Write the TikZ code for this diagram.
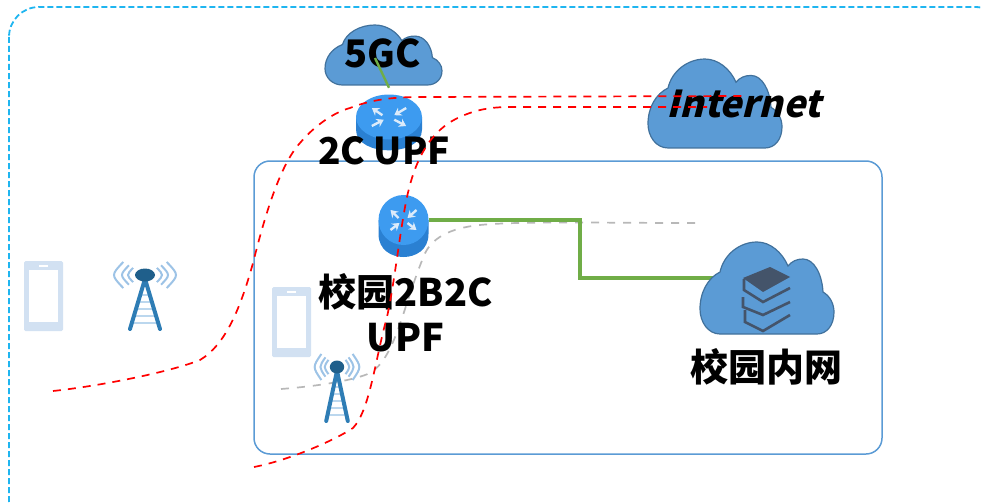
\documentclass[tikz,border=0pt]{standalone}
\usepackage{fontspec}
\setmainfont{Noto Sans CJK SC}
\newfontfamily\slantfont{Noto Sans CJK SC}[FakeSlant=0.25]
\usetikzlibrary{arrows.meta}
\definecolor{cloudblue}{HTML}{5B9BD5}
\definecolor{cloudedge}{HTML}{41719C}
\definecolor{bookdark}{HTML}{44546A}
\definecolor{routertop}{HTML}{3D9BF0}
\definecolor{routerside}{HTML}{2A80D2}
\definecolor{arrowpale}{HTML}{DCEBFA}
\definecolor{phoneblue}{HTML}{D2E1F2}
\definecolor{towerblue}{HTML}{2E7DB5}
\definecolor{towerdark}{HTML}{1F5F8B}
\definecolor{wavesblue}{HTML}{9DC3E6}
\definecolor{rungblue}{HTML}{BBD7EE}
\definecolor{outercyan}{HTML}{1FB5F0}
\definecolor{linegreen}{HTML}{70AD47}
\tikzset{
    cloudpic/.pic = {
        \draw[fill=cloudblue, draw=cloudedge, line width=1.2pt, shift={(-67,-46)}] (20,92)
            .. controls (8,92) and (0,80) .. (0,67) .. controls (0,50) and (8,36) .. (20,30)
            .. controls (24,12) and (40,0) .. (57,0) .. controls (70,0) and (82,10) .. (88,24)
            .. controls (92,19) and (97,17) .. (103,17) .. controls (114,17) and (122,32) .. (123,50)
            .. controls (130,54) and (134,62) .. (134,70) .. controls (134,83) and (127,92) .. (117,92) -- cycle;
    },
    routerpic/.pic = {
        \fill[routerside] (-25,0) -- (-25,14) .. controls (-25,30) and (-12,37) .. (0,37)
            .. controls (12,37) and (25,30) .. (25,14) -- (25,0) -- cycle;
        \fill[routertop] (0,0) ellipse [x radius=25pt, y radius=25pt];
        \draw[arrowpale, line width=2.4pt, -{Stealth[length=7pt,width=9pt]}] (-5,-2) -- (-13,-10);
        \draw[arrowpale, line width=2.4pt, -{Stealth[length=7pt,width=9pt]}] (13,-10) -- (4,-2);
        \draw[arrowpale, line width=2.4pt, -{Stealth[length=7pt,width=9pt]}] (-13,10) -- (-4,3);
        \draw[arrowpale, line width=2.4pt, -{Stealth[length=7pt,width=9pt]}] (4,3) -- (13,10);
    },
    phonepic/.pic = {
        \fill[phoneblue, rounded corners=1.5pt] (0,0) rectangle (39,70);
        \fill[white] (5,9) rectangle (34,61);
        \fill[white] (15,3.5) rectangle (24,6);
    },
    towerpic/.pic = {
        \foreach \k in {20,27,34,41,48} {
            \draw[rungblue, line width=1.6pt] (-15*\k/54,\k) -- (15*\k/54,\k);
        }
        \draw[towerblue, line width=4pt, line cap=round, line join=round] (-15,54) -- (0,4) -- (15,54);
        \fill[towerdark] (0,0) ellipse [x radius=10pt, y radius=6.5pt];
        \foreach \s in {-1,1} {
            \foreach \r in {17,23,31} {
                \draw[wavesblue, line width=2pt] ({\s*\r*.7},{-\r*.42}) .. controls ({\s*\r*1.1},0) .. ({\s*\r*.7},{\r*.42});
            }
        }
    },
    bookpic/.pic = {
        \fill[bookdark] (743,278) -- (770,267) -- (790,277) -- (763,292) -- cycle;
        \draw[bookdark, line width=2.6pt] (744,279) -- (744,290) -- (763,302) -- (790,288);
        \draw[bookdark, line width=2.6pt] (743,297) -- (743,307) -- (763,315) -- (790,302);
        \draw[bookdark, line width=2.6pt] (745,310) -- (745,322) -- (763,331) -- (790,315);
    }
}
\begin{document}
\begin{tikzpicture}[x=1pt, y=-1pt, node distance={34pt},
    main/.style = {inner sep=0pt, minimum width=50pt, minimum height=58pt},
    cloudbox/.style = {inner sep=0pt, minimum width=134pt, minimum height=92pt},
    txt/.style = {inner sep=0pt, align=center, font=\fontsize{38}{45}\selectfont\bfseries},
    reddash/.style = {red, line width=1.7pt, dash pattern=on 8pt off 7pt},
    greydash/.style = {black!28, line width=1.7pt, dash pattern=on 8pt off 8pt},
    greenline/.style = {linegreen, line width=3.2pt}]
    \clip (0,0) rectangle (982,503);

    \draw[outercyan, line width=1.8pt, dash pattern=on 6pt off 3pt, rounded corners=30pt] (9,7) rectangle (1005,530);
    \draw[cloudblue, line width=1.5pt, rounded corners=16pt] (254,161) rectangle (882,454);

    \node[cloudbox] (c1) at (383.5,55) {};
    \node[cloudbox] (c2) at (715,103.5) {};
    \node[cloudbox] (c3) at (767,288) {};
    \node[main] (r1) at (389,117) {};
    \node[main] (r2) at (403.5,220) {};
    \coordinate (g1) at (375,58);
    \coordinate (j1) at (580,278);
    \coordinate (j2) at (722,278);

    \coordinate (e1) at (53,391);
    \coordinate (e2) at (742,96);
    \coordinate (e3) at (254,467);
    \coordinate (e4) at (707,107);
    \coordinate (e5) at (281,389);
    \coordinate (e6) at (695,223);

    \draw[greydash] (e5) .. controls (320,386) and (355,380) .. (370,373)
        .. controls (395,358) and (402,310) .. (423,258)
        .. controls (430,238) and (450,228) .. (480,225)
        .. controls (520,221) and (600,223) .. (e6);
    \draw[greenline] (r2.east) -| (j1) -- (j2);

    \pic[xscale=.873, yscale=.652] at (c1) {cloudpic};
    \pic[yscale=.967] at (c2) {cloudpic};
    \pic at (c3) {cloudpic};
    \pic at (0,0) {bookpic};
    \pic[xscale=1.32, yscale=.9] at (r1) {routerpic};
    \pic at (r2) {routerpic};

    \pic at (24,261) {phonepic};
    \pic at (272,287) {phonepic};
    \pic at (145,275) {towerpic};
    \pic[xscale=.72] at (337,367) {towerpic};

    \node[txt] (t1) at (383,53) {5GC};
    \node[txt, font=\fontsize{37}{45}\selectfont\slantfont\bfseries] (t2) at (744,104) {Internet};
    \node[txt, font=\fontsize{37}{45}\selectfont\bfseries, xshift=-5pt] (t3) [below of=r1] {2C UPF};
    \node[txt] (t4) at (405.5,313) {校园2B2C\\UPF};
    \node[txt] (t5) at (766,367) {校园内网};

    \draw[greenline, line width=2.4pt] (g1) -- (r1.north);

    \draw[reddash] (e1) .. controls (100,386) and (170,372) .. (200,360)
        .. controls (225,345) and (240,310) .. (253,263)
        .. controls (265,215) and (280,165) .. (300,143)
        .. controls (315,125) and (335,112) .. (350,108)
        .. controls (375,98) and (400,97) .. (423,97)
        -- (e2);
    \draw[reddash] (e3) .. controls (290,460) and (335,440) .. (353,428)
        .. controls (370,410) and (375,360) .. (387,317)
        .. controls (395,280) and (400,230) .. (407,197)
        .. controls (415,160) and (430,130) .. (460,117)
        .. controls (475,110) and (490,107) .. (510,107)
        -- (e4);
\end{tikzpicture}
\end{document}
